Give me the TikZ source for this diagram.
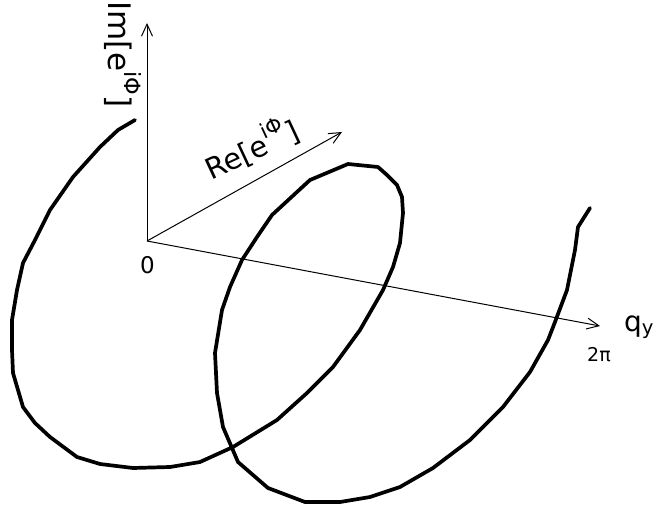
\documentclass[tikz,border=0pt]{standalone}
\usepackage{fontspec}
\setmainfont{DejaVu Sans}
\usetikzlibrary{arrows.meta}

\newcommand{\expo}[1]{\raisebox{0.52em}{\scalebox{0.72}{#1}}}

\begin{document}
\begin{tikzpicture}[
        x=1pt, y=-1pt,
        axis/.style={
            draw=black,
            line width=1pt,
            -{Straight Barb[length=12pt,width=11pt]}
        },
        helix/.style={
            draw=black,
            line width=3.7pt,
            line join=round,
            line cap=round
        },
        lbl/.style={inner sep=0pt, text=black}
    ]
    \useasboundingbox (0,0) rectangle (662,506);

    % Ejes
    \coordinate (o)  at (147,241);
    \coordinate (im) at (147,23);
    \coordinate (re) at (342,132);
    \coordinate (qy) at (600,326);

    \draw[axis] (o) -- (im);
    \draw[axis] (o) -- (re);
    \draw[axis] (o) -- (qy);

    % Etiquetas
    \node[lbl, font=\fontsize{31}{31}\selectfont, rotate=-90, anchor=base west]
        (imlabel) at (108,1) {Im[e\expo{iΦ}]};
    \node[lbl, font=\fontsize{29}{29}\selectfont, rotate=25, anchor=base west]
        (relabel) at (211,181) {Re[e\expo{iΦ}]};
    \node[lbl, font=\fontsize{23}{23}\selectfont] (zero) at (147.5,265.5) {0};
    \node[lbl, font=\fontsize{19}{19}\selectfont] (twopi) at (599,355) {2π};
    \node[lbl, font=\fontsize{28}{28}\selectfont, anchor=base west]
        (qlabel) at (624,331) {q\textsubscript{y}};

    % Hélice
    \draw[helix] plot coordinates {
        (135,120) (118,130) (100,147) (73,177) (50,210) (35,240) (23,263)
        (17,290) (12,320) (12,350) (13,373) (23,407) (35,423) (50,437)
        (77,457) (100,464) (133,468) (170,467) (200,462)
        (233,447) (277,420) (307,393) (333,367) (360,330) (383,290)
        (393,267) (400,243) (403,213) (402,197) (397,185) (387,175)
        (378,167) (348,164) (310,180) (272,215) (257,237) (242,260)
        (230,287) (222,310) (215,353) (217,393) (223,427) (238,462)
        (268,488) (305,502) (340,502) (370,497) (400,487) (433,468)
        (470,440) (503,407) (530,372) (548,340) (555,322) (567,290)
        (575,250) (578,227) (590,208)
    };

\end{tikzpicture}
\end{document}
